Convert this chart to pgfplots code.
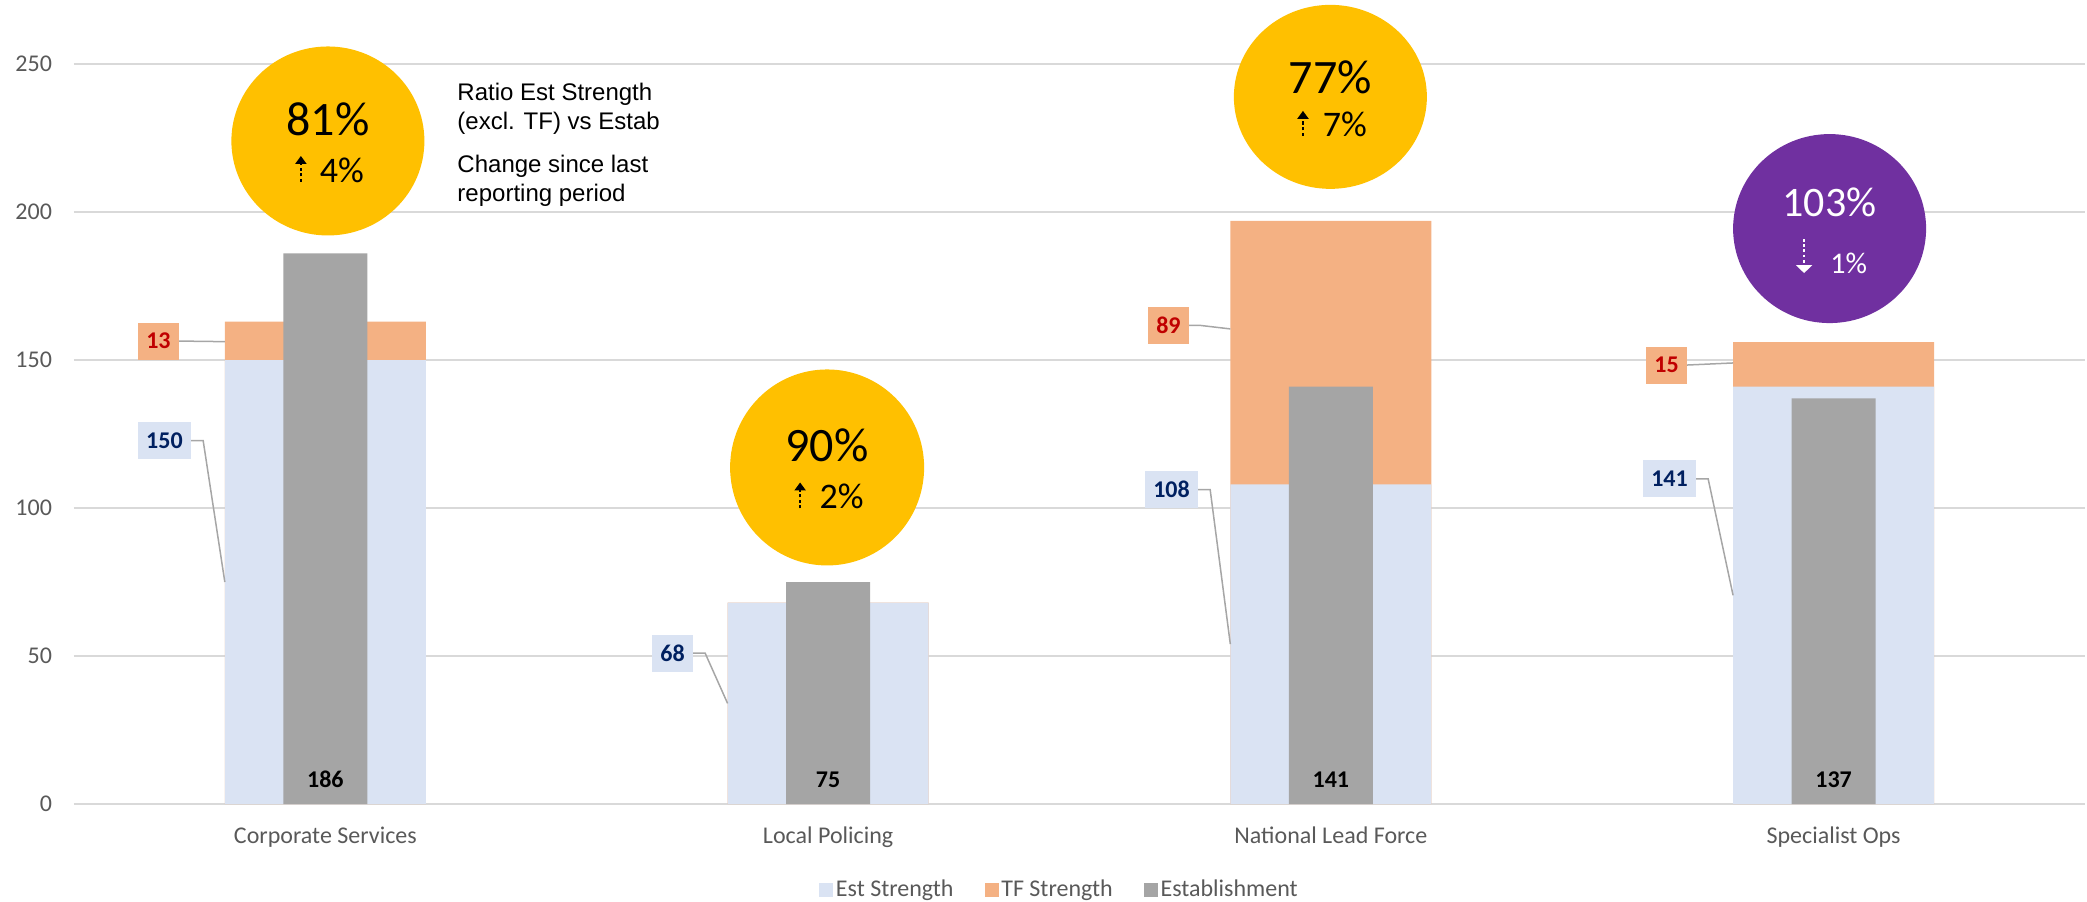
\documentclass[border=0pt]{standalone}
\usepackage{fontspec}
\setmainfont{Carlito}
\newfontfamily\arialf{Liberation Sans}
\usepackage{pgfplots}
\usepackage{pgfplotstable}
\pgfplotsset{compat=1.18}
\usetikzlibrary{arrows.meta}

\definecolor{estc}{HTML}{DAE3F3}
\definecolor{tfc}{HTML}{F4B183}
\definecolor{estabc}{HTML}{A5A5A5}
\definecolor{gridc}{HTML}{D9D9D9}
\definecolor{tickc}{HTML}{595959}
\definecolor{yel}{HTML}{FFC000}
\definecolor{pur}{HTML}{7030A0}
\definecolor{navy}{HTML}{002060}
\definecolor{darkred}{HTML}{C00000}
\definecolor{leadc}{HTML}{A6A6A6}

\pgfplotstableread{
x est tf estab
0 150 13 186
1 68 0 75
2 108 89 141
3 141 15 137
}\datatable

\tikzset{
  lbl/.style={font=\bfseries\fontsize{12}{14}\selectfont, inner xsep=4pt, inner ysep=0pt, minimum height=18.5pt},
  estlbl/.style={lbl, fill=estc, text=navy},
  tflbl/.style={lbl, fill=tfc, text=darkred},
  lead/.style={draw=leadc, line width=0.75pt},
  bigpct/.style={font=\fontsize{24}{28}\selectfont},
  smallpct/.style={font=\fontsize{18}{22}\selectfont},
  uparr/.style={black, line width=1.1pt, dash pattern=on 1.6pt off 1.2pt, -{Triangle[length=4pt,width=5.5pt]}},
  dnarr/.style={white, line width=1.3pt, dash pattern=on 1.4pt off 1.2pt, -{Triangle[length=4pt,width=8pt]}},
  annot/.style={font=\arialf\fontsize{12}{14}\selectfont, anchor=base west, inner sep=0pt},
}

\begin{document}
\begin{tikzpicture}
\path[use as bounding box] (-37pt,-48.5pt) rectangle (1006.5pt,402pt);
\begin{axis}[
  at={(0,0)}, anchor=south west,
  scale only axis, width=1005.5pt, height=370pt,
  xmin=-0.5, xmax=3.5, ymin=0, ymax=250,
  ytick={0,50,...,250},
  xtick={0,1,2,3},
  xticklabels={Corporate Services, Local Policing, National Lead Force, Specialist Ops},
  axis line style={draw=none},
  major tick length=0pt,
  tick style={draw=none},
  ymajorgrids, grid style={draw=gridc, line width=0.75pt},
  tick label style={font=\fontsize{12}{14}\selectfont, text=tickc},
  /pgf/number format/assume math mode=true,
  yticklabel style={xshift=-7.5pt},
  xticklabel style={yshift=-8pt},
  clip=false,
  ybar, bar shift=0pt,
  legend columns=3,
  legend style={at={(0.4903,-0.1162)}, anchor=center, draw=none, fill=none,
    font=\fontsize{12}{14}\selectfont, text=tickc,
    nodes={inner xsep=1.5pt},
    /tikz/every even column/.append style={column sep=14pt}},
]
\addplot[fill=tfc, draw=none, bar width=0.4, forget plot] table[x=x, y expr=\thisrow{est}+\thisrow{tf}] {\datatable};
\addplot[fill=estc, draw=none, bar width=0.4, forget plot] table[x=x, y=est] {\datatable};
\addplot[fill=estabc, draw=none, bar width=0.167, forget plot] table[x=x, y=estab] {\datatable};

\addlegendimage{legend image code/.code={\fill[estc] (0pt,-3.25pt) rectangle (6.5pt,3.25pt);}}
\addlegendentry{Est Strength}
\addlegendimage{legend image code/.code={\fill[tfc] (0pt,-3.25pt) rectangle (6.5pt,3.25pt);}}
\addlegendentry{TF Strength}
\addlegendimage{legend image code/.code={\fill[estabc] (0pt,-3.25pt) rectangle (6.5pt,3.25pt);}}
\addlegendentry{Establishment}

% establishment labels
\node[lbl, text=black] at (axis cs:0,8.2) {186};
\node[lbl, text=black] at (axis cs:1,8.2) {75};
\node[lbl, text=black] at (axis cs:2,8.2) {141};
\node[lbl, text=black] at (axis cs:3,8.2) {137};

% est strength labels
\node[estlbl] (e0) at (axis cs:-0.32,122.8) {150};
\draw[lead] (e0.east) -- ([xshift=6pt]e0.east) -- (axis cs:-0.2,75);
\node[estlbl] (e1) at (axis cs:0.6905,51) {68};
\draw[lead] (e1.east) -- ([xshift=6pt]e1.east) -- (axis cs:0.8,34);
\node[estlbl] (e2) at (axis cs:1.683,106.25) {108};
\draw[lead] (e2.east) -- ([xshift=6pt]e2.east) -- (axis cs:1.8,54);
\node[estlbl] (e3) at (axis cs:2.6736,109.8) {141};
\draw[lead] (e3.east) -- ([xshift=6pt]e3.east) -- (axis cs:2.8,70.5);

% tf labels
\node[tflbl] (t0) at (axis cs:-0.332,156.4) {13};
\draw[lead] (t0.east) -- (axis cs:-0.2,156.2);
\node[tflbl] (t2) at (axis cs:1.677,161.7) {89};
\draw[lead] (t2.east) -- ([xshift=5.5pt]t2.east) -- (axis cs:1.8,160.5);
\node[tflbl] (t3) at (axis cs:2.6676,148.3) {15};
\draw[lead] (t3.east) -- (axis cs:2.8,149);

% circles
\fill[yel] (axis cs:0.005,224) ellipse[x radius=48.25pt, y radius=47.25pt];
\node[bigpct] at ([yshift=11pt]axis cs:0.005,224) {81\%};
\node[smallpct] at ([xshift=7pt,yshift=-14.7pt]axis cs:0.005,224) {4\%};
\draw[uparr] ([xshift=-13.5pt,yshift=-20.5pt]axis cs:0.005,224) -- ([xshift=-13.5pt,yshift=-7.5pt]axis cs:0.005,224);

\fill[yel] (axis cs:0.998,113.7) ellipse[x radius=48.5pt, y radius=49pt];
\node[bigpct] at ([yshift=11pt]axis cs:0.998,113.7) {90\%};
\node[smallpct] at ([xshift=7.2pt,yshift=-14.7pt]axis cs:0.998,113.7) {2\%};
\draw[uparr] ([xshift=-13.5pt,yshift=-20.5pt]axis cs:0.998,113.7) -- ([xshift=-13.5pt,yshift=-7.5pt]axis cs:0.998,113.7);

\fill[yel] (axis cs:1.999,238.9) ellipse[x radius=48.25pt, y radius=46pt];
\node[bigpct] at ([yshift=10pt]axis cs:1.999,238.9) {77\%};
\node[smallpct] at ([xshift=7.2pt,yshift=-13.9pt]axis cs:1.999,238.9) {7\%};
\draw[uparr] ([xshift=-13.7pt,yshift=-19.5pt]axis cs:1.999,238.9) -- ([xshift=-13.7pt,yshift=-7pt]axis cs:1.999,238.9);

\fill[pur] (axis cs:2.992,194.4) ellipse[x radius=48.25pt, y radius=47.25pt];
\node[font=\fontsize{21}{25}\selectfont, text=white] at ([yshift=12.9pt]axis cs:2.992,194.4) {103\%};
\node[font=\fontsize{15}{18}\selectfont, text=white] at ([xshift=9.5pt,yshift=-17.25pt]axis cs:2.992,194.4) {1\%};
\draw[dnarr] ([xshift=-12.75pt,yshift=-5.25pt]axis cs:2.992,194.4) -- ([xshift=-12.75pt,yshift=-22.25pt]axis cs:2.992,194.4);

% annotation text
\node[annot] at (axis cs:0.262,237.6) {Ratio Est Strength};
\node[annot] at (axis cs:0.262,228) {(excl. TF) vs Estab};
\node[annot] at (axis cs:0.262,213.3) {Change since last};
\node[annot] at (axis cs:0.262,203.7) {reporting period};
\end{axis}
\end{tikzpicture}
\end{document}
